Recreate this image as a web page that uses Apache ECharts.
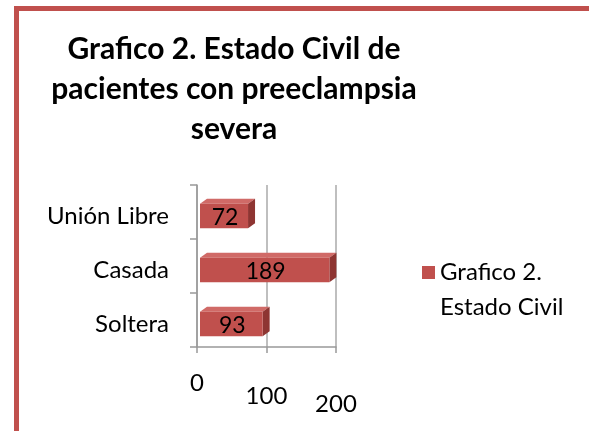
<!DOCTYPE html>
<html>
<head>
<meta charset="utf-8">
<script src="https://cdn.jsdelivr.net/npm/echarts@6/dist/echarts.min.js"></script>
<style>
html,body{margin:0;padding:0;background:#fff;}
#chart{width:589px;height:431px;}
</style>
</head>
<body>
<div id="chart"></div>
<script>
// ---- data ----
var categories = ['Soltera', 'Casada', 'Unión Libre'];
var values = [93, 189, 72];
var seriesName = 'Grafico 2. Estado Civil';
var titleText = 'Grafico 2. Estado Civil de\npacientes con preeclampsia\nsevera';
var xTicks = [0, 100, 200];

var FONT = 'Lato';
var chart = echarts.init(document.getElementById('chart'));

var seriesData = values.map(function (v, i) { return [v, i]; });

function renderBar(params, api) {
  var v = api.value(0), c = api.value(1);
  var p0 = api.coord([0, c]);
  var p1 = api.coord([v, c]);
  var bh = api.size([0, 1])[1] * 0.45;
  var dx = 7, dy = 5;
  var x0 = p0[0] + 3, x1 = p1[0] + 1;
  var top = p0[1] - bh / 2 + 4, bot = p0[1] + bh / 2 + 4;
  return {
    type: 'group',
    children: [
      { type: 'polygon', shape: { points: [[x0, top], [x0 + dx, top - dy], [x1 + dx, top - dy], [x1, top]] },
        style: { fill: '#d06a67' } },
      { type: 'polygon', shape: { points: [[x1, top], [x1 + dx, top - dy], [x1 + dx, bot - dy], [x1, bot]] },
        style: { fill: '#8e3532' } },
      { type: 'rect', shape: { x: x0, y: top, width: x1 - x0, height: bot - top },
        style: { fill: '#c0504d' } },
      { type: 'text', x: (x0 + x1) / 2 + 1, y: (top + bot) / 2 + 2,
        style: { text: String(v), fill: '#000', font: '23px ' + FONT, align: 'center', verticalAlign: 'middle' } }
    ]
  };
}

var option = {
  backgroundColor: '#fff',
  animation: false,
  title: {
    text: titleText,
    left: 229, top: 24, textAlign: 'center',
    textStyle: { fontFamily: FONT, fontWeight: 'bold', fontSize: 30, lineHeight: 40, color: '#000' }
  },
  legend: {
    left: 417, top: 215,
    itemWidth: 13, itemHeight: 13, itemGap: 0,
    icon: 'rect',
    formatter: function (n) { return ' \n' + n.replace('. ', '.\n'); },
    textStyle: { fontFamily: FONT, fontSize: 24, lineHeight: 35, color: '#000' },
    data: [seriesName]
  },
  grid: { left: 197, right: 253, top: 185, bottom: 84, containLabel: false },
  xAxis: {
    type: 'value', min: 0, max: 200, interval: 100,
    axisLine: { show: true, lineStyle: { color: '#999', width: 1.5 } },
    axisTick: { show: true, length: 6, lineStyle: { color: '#999', width: 1.5 } },
    splitLine: { show: true, lineStyle: { color: '#aaa', width: 1.5 } },
    axisLabel: {
      margin: 24,
      fontFamily: FONT, fontSize: 24, color: '#000',
      formatter: function (v) {
        var i = xTicks.indexOf(v);
        return '{t' + i + '|' + v + '}';
      },
      rich: {
        t0: { padding: [0, 0, 0, 0], fontFamily: FONT, fontSize: 24 },
        t1: { padding: [13, 0, 0, 0], fontFamily: FONT, fontSize: 24 },
        t2: { padding: [21, 0, 0, 0], fontFamily: FONT, fontSize: 24 }
      }
    }
  },
  yAxis: {
    type: 'category', data: categories,
    axisLine: { show: true, lineStyle: { color: '#999', width: 1.5 } },
    axisTick: { show: true, length: 7, lineStyle: { color: '#999', width: 1.5 } },
    axisLabel: {
      margin: 28, fontFamily: FONT, fontSize: 24, color: '#000',
      formatter: function (v) { return '{c|' + v + '}'; },
      rich: { c: { padding: [9, 0, 0, 0], fontFamily: FONT, fontSize: 24, color: '#000' } }
    }
  },
  series: [{
    name: seriesName,
    type: 'custom',
    itemStyle: { color: '#c0504d' },
    renderItem: renderBar,
    encode: { x: 0, y: 1 },
    data: seriesData
  }],
  graphic: [
    { type: 'rect', shape: { x: 14, y: 6, width: 580, height: 5 }, style: { fill: '#c0504d' } },
    { type: 'rect', shape: { x: 14, y: 6, width: 5, height: 430 }, style: { fill: '#c0504d' } }
  ]
};
chart.setOption(option);
</script>
</body>
</html>
